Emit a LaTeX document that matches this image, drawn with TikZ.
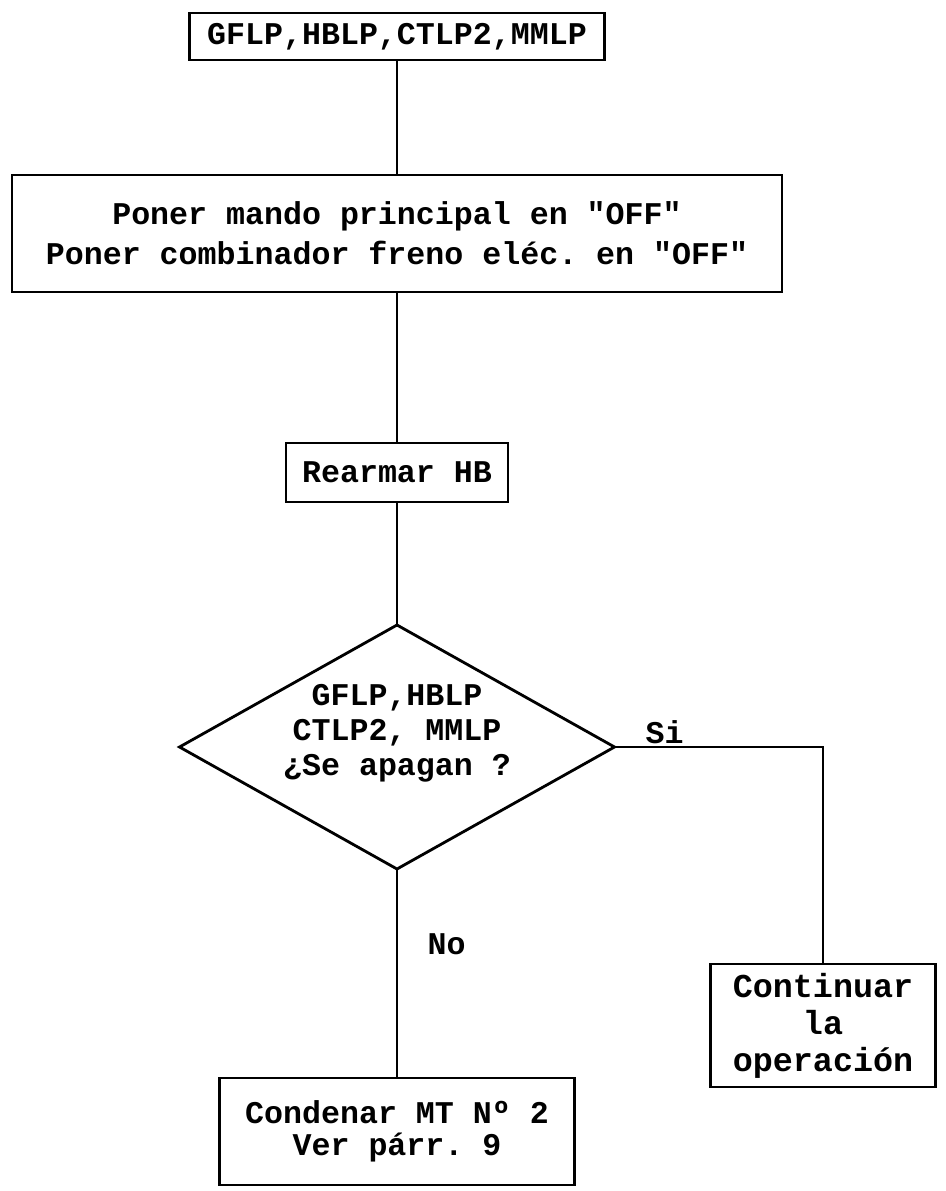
\documentclass[tikz,border=0pt]{standalone}
\usepackage{fontspec}
\setmonofont{Liberation Mono}
\usepackage{tikz}
\usetikzlibrary{shapes.geometric, positioning}
\tikzset{
  actblock/.style={
    draw=black, rectangle, line width=1.6pt,
    align=center, inner sep=0pt, outer sep=0pt,
    font=\ttfamily\bfseries\fontsize{18}{19}\selectfont
  },
  askblock/.style={
    draw=black, diamond, aspect=1.78, line width=1.6pt,
    minimum width=8.7cm, minimum height=4.88cm,
    inner sep=0pt, outer sep=0pt
  },
  asktext/.style={
    align=center, inner sep=0pt, yshift=0.27cm,
    font=\ttfamily\bfseries\fontsize{18}{20}\selectfont
  },
  flowline/.style={line width=1.6pt, draw=black},
  flowlabel/.style={
    font=\ttfamily\bfseries\fontsize{18}{19}\selectfont, inner sep=1pt
  }
}

\begin{document}
\begin{tikzpicture}
    \useasboundingbox (0,0) rectangle (18.9,-23.82);
    \node[actblock, minimum width=8.3cm, minimum height=0.94cm] (lamps) at (7.94,-0.73) {GFLP,HBLP,CTLP2,MMLP};
    \node[actblock, minimum width=15.4cm, minimum height=2.34cm, below=2.3cm of lamps] (off) {Poner mando principal en "OFF"\\[3.8pt]Poner combinador freno eléc. en "OFF"};
    \node[actblock, minimum width=4.44cm, minimum height=1.18cm, below=3.02cm of off] (reset) {Rearmar HB};
    \node[askblock, below=2.46cm of reset, label={[asktext]center:{GFLP,HBLP\\CTLP2, MMLP\\¿Se apagan ?}}] (ask) {};
    \node[actblock, minimum width=7.1cm, minimum height=2.14cm, below=4.18cm of ask] (stop) {Condenar MT Nº 2\\[-1pt]Ver párr. 9};
    \node[actblock, minimum width=4.5cm, minimum height=2.46cm, below right=4.34cm and 1.92cm of ask.east, font=\ttfamily\bfseries\fontsize{19}{21}\selectfont] (go) {Continuar\\la\\operación};
    \draw[flowline] (lamps) -- (off);
    \draw[flowline] (off) -- (reset);
    \draw[flowline] (reset) -- (ask);
    \draw[flowline] (ask.east) -| node[pos=0.12, above, flowlabel] {Si} (go.north);
    \draw[flowline] (ask) -- node[pos=0.36, right=0.55cm, flowlabel] {No} (stop);
  \end{tikzpicture}
\end{document}
